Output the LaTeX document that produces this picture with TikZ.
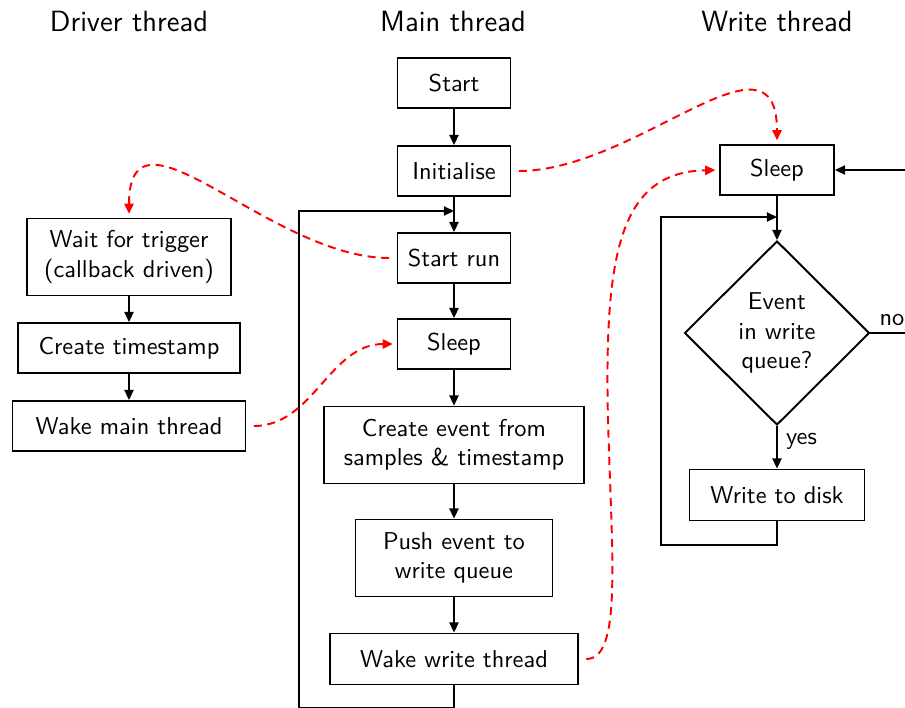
\documentclass[tikz,border=0pt]{standalone}
\usetikzlibrary{arrows.meta,shapes.geometric}
\begin{document}
\begin{tikzpicture}[x=0.41pt,y=-0.41pt,font=\sffamily,
  box/.style 2 args={draw,line width=0.8pt,rectangle,inner sep=0pt,minimum width=#1*0.41pt,minimum height=#2*0.41pt,align=center},
  ln/.style={line width=0.8pt},
  arr/.style={line width=0.8pt,-{Triangle[length=4.2pt,width=3.8pt]}},
  redarr/.style={red,line width=0.8pt,dash pattern=on 3.3pt off 2.3pt,-{Triangle[length=4.2pt,width=3.8pt]},shorten <=3pt,shorten >=1.5pt},
  title/.style={font=\sffamily\large}]
\useasboundingbox (0,0) rectangle (905,708);
% titles
\node[title] (t1) at (129,21) {Driver thread};
\node[title] (t2) at (453,21) {Main thread};
\node[title] (t3) at (777,21) {Write thread};
% main thread
\node[box={113}{50}] (start) at (454,83) {Start};
\node[box={113}{50}] (init) at (454,171) {Initialise};
\node[box={113}{50}] (run) at (454,258) {Start run};
\node[box={113}{50}] (msleep) at (454,344) {Sleep};
\node[box={260}{77}] (create) at (454,445) {Create event from\\samples \& timestamp};
\node[box={197}{77}] (push) at (454,558) {Push event to\\write queue};
\node[box={248}{51}] (wakew) at (454,659) {Wake write thread};
% driver thread
\node[box={204}{77}] (wait) at (129,257) {Wait for trigger\\(callback driven)};
\node[box={222}{50}] (ts) at (129,348) {Create timestamp};
\node[box={233}{50}] (wakem) at (129,426) {Wake main thread};
% write thread
\node[box={114}{50}] (wsleep) at (777,170) {Sleep};
\node[draw,diamond,ln,inner sep=0pt,aspect=1,minimum width=185*0.41pt,minimum height=184*0.41pt,align=center] (q) at (777,333) {Event\\in write\\queue?};
\node[box={175}{51}] (disk) at (777,495) {Write to disk};
% coordinates
\coordinate (mj) at (454,211);
\coordinate (mlb) at (299,707.6);
\coordinate (wj) at (777,217);
\coordinate (wlb) at (661,545);
\coordinate (nr) at (935,333);
\coordinate (rmid) at (608,420);
% main connectors
\draw[arr] (start) -- (init);
\draw[arr] (init) -- (run);
\draw[arr] (run) -- (msleep);
\draw[arr] (msleep) -- (create);
\draw[arr] (create) -- (push);
\draw[arr] (push) -- (wakew);
\draw[arr] (wakew.south) |- (mlb) |- (mj);
% driver connectors
\draw[arr] (wait) -- (ts);
\draw[arr] (ts) -- (wakem);
% write connectors
\draw[arr] (wsleep) -- (q);
\draw[arr] (q) -- node[right,pos=0.35] (yes) {yes} (disk);
\draw[arr] (disk.south) |- (wlb) |- (wj);
\draw[arr] (q.east) -- (nr) |- (wsleep.east);
\node (no) at (892,320) {no};
% red dashed
\draw[redarr] (init.east) to[out=0,in=90,looseness=1.2] (wsleep.north);
\draw[redarr] (run.west) to[out=180,in=90,looseness=1.2] (wait.north);
\draw[redarr] (wakem.east) to[out=0,in=180] (msleep.west);
\draw[redarr] (wakew.east) .. controls +(43,0) and +(4,140) .. (rmid) .. controls +(-4,-170) and +(-98,2) .. (wsleep.west);
\end{tikzpicture}
\end{document}
